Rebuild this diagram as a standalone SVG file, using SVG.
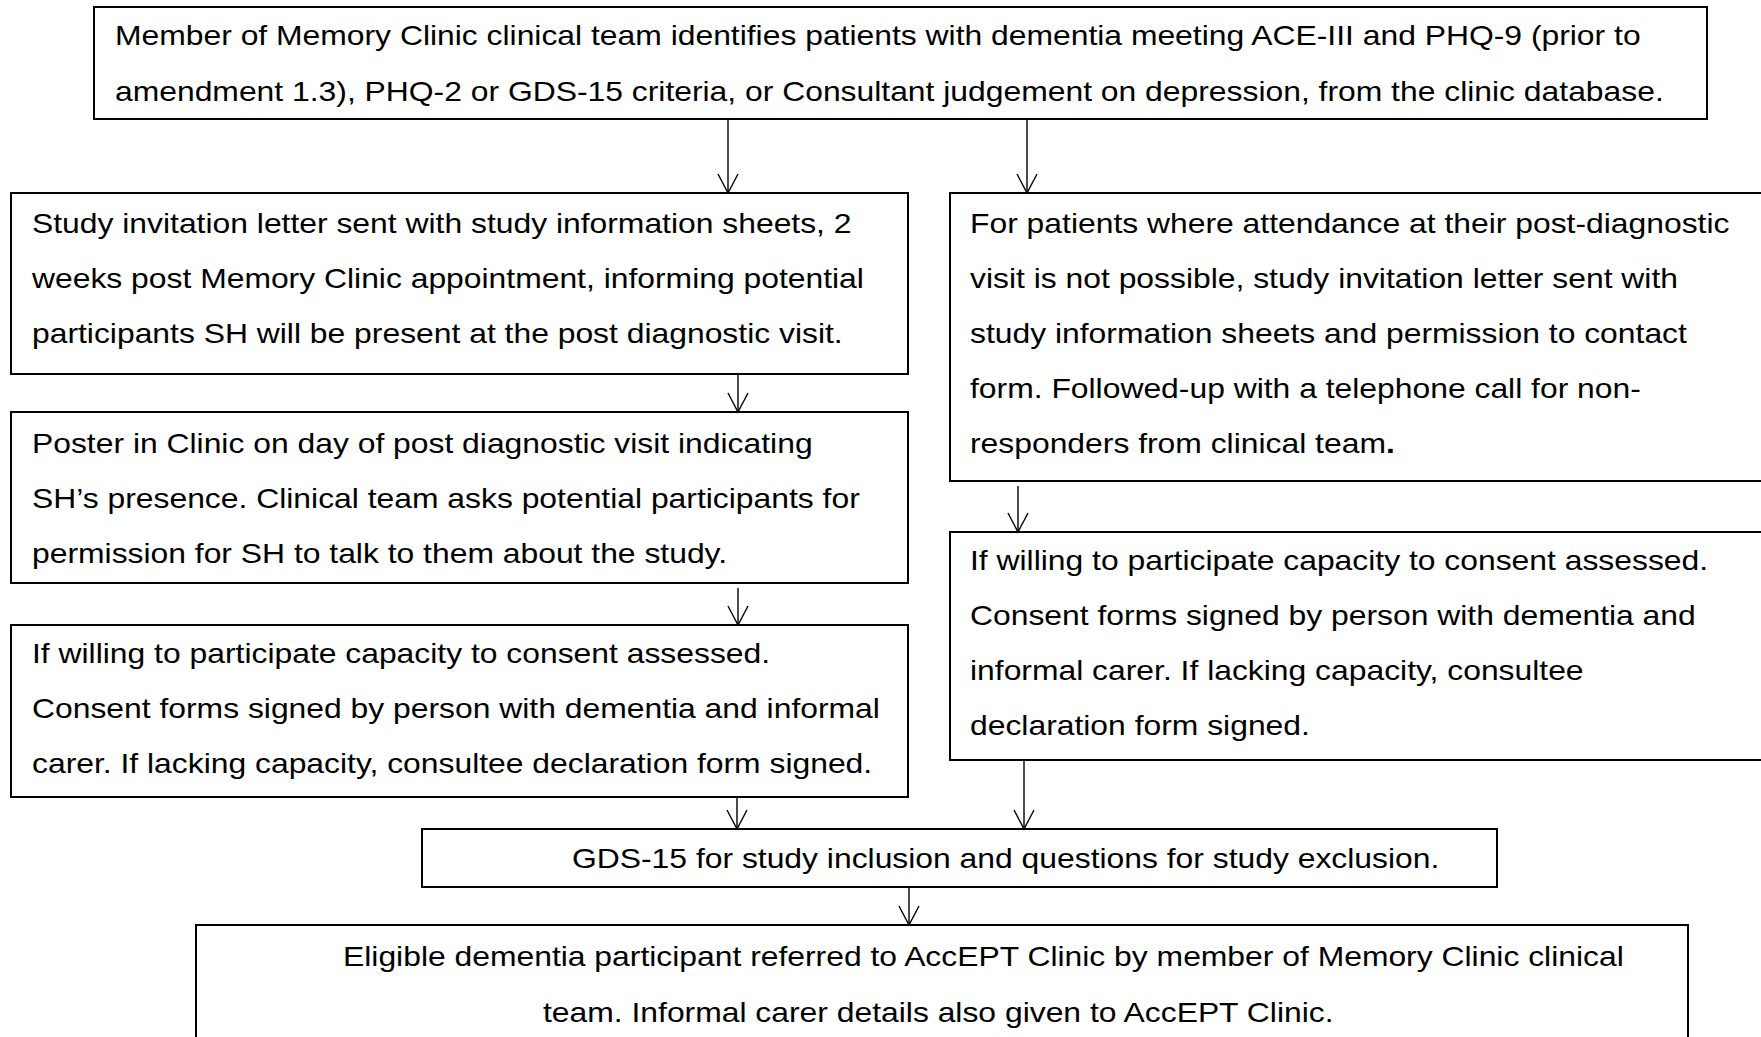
<svg xmlns="http://www.w3.org/2000/svg" width="1761" height="1037" viewBox="0 0 1761 1037">
<style>
  .box { fill: #ffffff; stroke: #000; stroke-width: 2; }
  .t { font-family: "Liberation Sans", Arial, sans-serif; font-size: 27px; fill: #000; }
  .conn line { stroke: #000; stroke-width: 1.4; marker-end: url(#arr); }
</style>
<defs>
  <marker id="arr" markerUnits="userSpaceOnUse" markerWidth="40" markerHeight="40" refX="0" refY="0" orient="auto" viewBox="-20 -20 40 40" overflow="visible">
    <path d="M -19 -10 L 0 0 L -19 10" fill="none" stroke="#000" stroke-width="1.4"/>
  </marker>
</defs>
<rect width="1761" height="1037" fill="#ffffff"/>

<g id="n1">
  <rect class="box" x="94" y="7" width="1613" height="112"/>
  <text class="t" transform="translate(115,45) scale(1.18,1)"><tspan x="0" y="0">Member of Memory Clinic clinical team identifies patients with dementia meeting ACE-III and PHQ-9 (prior to</tspan><tspan x="0" y="56">amendment 1.3), PHQ-2 or GDS-15 criteria, or Consultant judgement on depression, from the clinic database.</tspan></text>
</g>

<g id="n2">
  <rect class="box" x="11" y="193" width="897" height="181"/>
  <text class="t" transform="translate(32,233) scale(1.18,1)"><tspan x="0" y="0">Study invitation letter sent with study information sheets, 2</tspan><tspan x="0" y="55">weeks post Memory Clinic appointment, informing potential</tspan><tspan x="0" y="110">participants SH will be present at the post diagnostic visit.</tspan></text>
</g>

<g id="n3">
  <rect class="box" x="11" y="412" width="897" height="171"/>
  <text class="t" transform="translate(32,453) scale(1.18,1)"><tspan x="0" y="0">Poster in Clinic on day of post diagnostic visit indicating</tspan><tspan x="0" y="55">SH’s presence. Clinical team asks potential participants for</tspan><tspan x="0" y="110">permission for SH to talk to them about the study.</tspan></text>
</g>

<g id="n4">
  <rect class="box" x="11" y="625" width="897" height="172"/>
  <text class="t" transform="translate(32,663) scale(1.18,1)"><tspan x="0" y="0">If willing to participate capacity to consent assessed.</tspan><tspan x="0" y="55">Consent forms signed by person with dementia and informal</tspan><tspan x="0" y="110">carer. If lacking capacity, consultee declaration form signed.</tspan></text>
</g>

<g id="n5">
  <rect class="box" x="950" y="193" width="850" height="288"/>
  <text class="t" transform="translate(970,233) scale(1.18,1)"><tspan x="0" y="0">For patients where attendance at their post-diagnostic</tspan><tspan x="0" y="55">visit is not possible, study invitation letter sent with</tspan><tspan x="0" y="110">study information sheets and permission to contact</tspan><tspan x="0" y="165">form. Followed-up with a telephone call for non-</tspan><tspan x="0" y="220">responders from clinical team<tspan font-weight="bold">.</tspan></tspan></text>
</g>

<g id="n6">
  <rect class="box" x="950" y="532" width="850" height="228"/>
  <text class="t" transform="translate(970,570) scale(1.18,1)"><tspan x="0" y="0">If willing to participate capacity to consent assessed.</tspan><tspan x="0" y="55">Consent forms signed by person with dementia and</tspan><tspan x="0" y="110">informal carer. If lacking capacity, consultee</tspan><tspan x="0" y="165">declaration form signed.</tspan></text>
</g>

<g id="n7">
  <rect class="box" x="422" y="829" width="1075" height="58"/>
  <text class="t" transform="translate(572,868) scale(1.18,1)">GDS-15 for study inclusion and questions for study exclusion.</text>
</g>

<g id="n8">
  <rect class="box" x="196" y="925" width="1492" height="140"/>
  <text class="t" transform="translate(343,966) scale(1.18,1)">Eligible dementia participant referred to AccEPT Clinic by member of Memory Clinic clinical</text>
  <text class="t" transform="translate(543,1022) scale(1.18,1)">team. Informal carer details also given to AccEPT Clinic.</text>
</g>

<g id="connectors" class="conn">
  <line x1="728" y1="119" x2="728" y2="193"/>
  <line x1="1027" y1="119" x2="1027" y2="193"/>
  <line x1="738" y1="374" x2="738" y2="412"/>
  <line x1="738" y1="588" x2="738" y2="625"/>
  <line x1="1018" y1="486" x2="1018" y2="532"/>
  <line x1="737" y1="797" x2="737" y2="829"/>
  <line x1="1024" y1="760" x2="1024" y2="829"/>
  <line x1="909" y1="887" x2="909" y2="925"/>
</g>
</svg>
